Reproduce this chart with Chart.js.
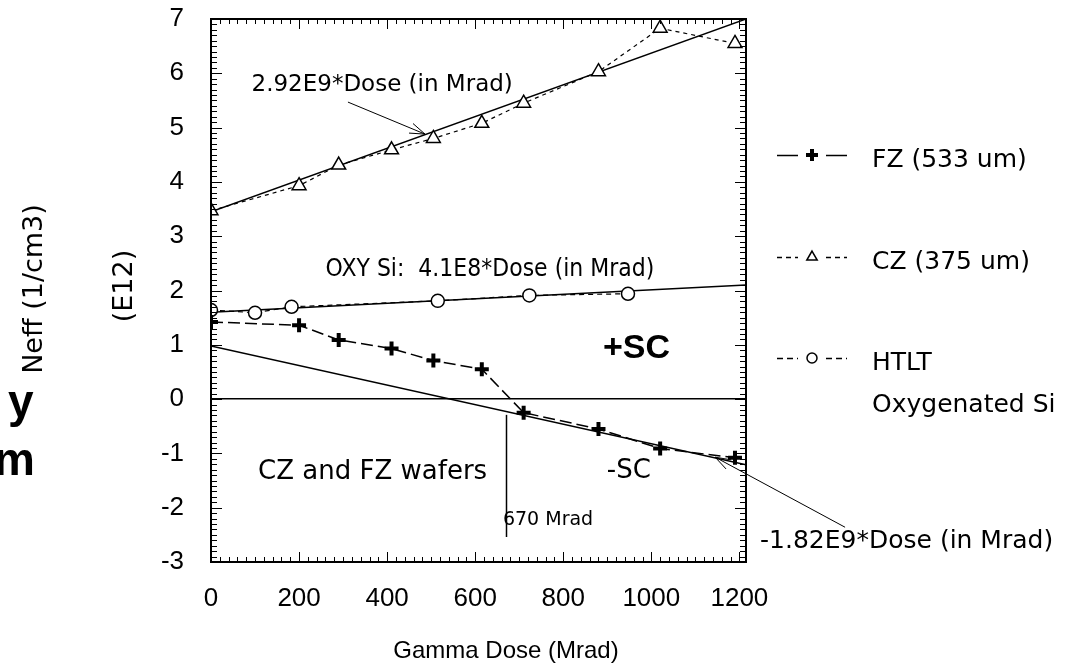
<!DOCTYPE html>
<html>
<head>
<meta charset="utf-8">
<title>Neff vs gamma dose</title>
<script src="https://cdn.jsdelivr.net/npm/chart.js@4/dist/chart.umd.min.js"></script>
<style>
  html, body { margin: 0; padding: 0; background: #fff; }
  canvas { display: block; }
</style>
</head>
<body>
<canvas id="chart" width="1076" height="667"></canvas>
<script>
// Gamma doses (Mrad) shared by the FZ and CZ wafer measurements
const doses = [0, 200, 290, 410, 505, 615, 710, 880, 1020, 1190];
// Neff in units of 1E12 /cm3
const fzValues = [1.42, 1.36, 1.09, 0.93, 0.71, 0.55, -0.25, -0.55, -0.91, -1.08];
const czValues = [3.47, 3.93, 4.31, 4.59, 4.80, 5.08, 5.45, 6.03, 6.83, 6.55];
// Oxygenated (HTLT) silicon
const htltDoses = [0, 100, 183, 515, 723, 947];
const htltValues = [1.64, 1.59, 1.70, 1.81, 1.91, 1.94];
// Straight-line fits, end points
const fitDoses = [0, 1215];
const czFit = [3.45, 7.0];
const oxyFit = [1.6, 2.1];
const fzFit = [0.98, -1.21];
// Axis ticks
const xTicks = [0, 200, 400, 600, 800, 1000, 1200];
const yTicks = [-3, -2, -1, 0, 1, 2, 3, 4, 5, 6, 7];
const xRange = [0, 1215];
const yRange = [-3, 7];

const TXT = '"DejaVu Sans", sans-serif';
const NUM = '"Liberation Sans", Arial, sans-serif';

const pts = (xs, ys) => xs.map((x, i) => ({ x, y: ys[i] }));

const datasets = [
  {
    label: 'FZ (533 um)', data: pts(doses, fzValues),
    borderColor: '#000', borderWidth: 1.5, borderDash: [12, 5],
    pointStyle: 'cross', pointRadius: 7, pointBorderWidth: 4,
    pointBorderColor: '#000', pointBackgroundColor: '#000'
  },
  {
    label: 'CZ (375 um)', data: pts(doses, czValues),
    borderColor: '#000', borderWidth: 1.2, borderDash: [4, 4],
    pointStyle: 'triangle', pointRadius: 8, pointBorderWidth: 1.5,
    pointBorderColor: '#000', pointBackgroundColor: '#fff'
  },
  {
    label: 'HTLT', data: pts(htltDoses, htltValues),
    borderColor: '#000', borderWidth: 1.2, borderDash: [5, 4],
    pointStyle: 'circle', pointRadius: 6.5, pointBorderWidth: 1.5,
    pointBorderColor: '#000', pointBackgroundColor: '#fff'
  },
  { label: 'CZ fit', data: pts(fitDoses, czFit), borderColor: '#000', borderWidth: 1.5, pointRadius: 0 },
  { label: 'OXY fit', data: pts(fitDoses, oxyFit), borderColor: '#000', borderWidth: 1.5, pointRadius: 0 },
  { label: 'FZ fit', data: pts(fitDoses, fzFit), borderColor: '#000', borderWidth: 1.5, pointRadius: 0 }
];

// Legend text lines per plotted series
const legendText = [['FZ (533 um)'], ['CZ (375 um)'], ['HTLT', 'Oxygenated Si']];

// Text notes placed in data coordinates (x = dose, y = Neff at text baseline)
const notes = [
  { text: '2.92E9*Dose (in Mrad)', x: 92, y: 5.67, font: '23px ' + TXT, sy: 1 },
  { text: 'OXY Si:  4.1E8*Dose (in Mrad)', x: 260, y: 2.265, font: '22px ' + TXT, sy: 1.15 },
  { text: '+SC', x: 890, y: 0.75, font: 'bold 34px ' + NUM, sy: 1 },
  { text: 'CZ and FZ wafers', x: 107, y: -1.473, font: '26px ' + TXT, sy: 1 },
  { text: '-SC', x: 899, y: -1.455, font: '26px ' + TXT, sy: 1 },
  { text: '670 Mrad', x: 663, y: -2.32, font: '19px ' + TXT, sy: 1 },
  { text: '-1.82E9*Dose (in Mrad)', x: 1247, y: -2.75, font: '25px ' + TXT, sy: 1 }
];
const arrows = [
  { from: [311, 5.47], to: [486, 4.88] },
  { from: [1440, -2.36], to: [1145, -1.07] }
];
const crossover = { dose: 670, top: -0.29, bottom: -2.54 };

function drawArrow(ctx, x0, y0, x1, y1) {
  const ang = Math.atan2(y1 - y0, x1 - x0), L = 16, s = 0.33;
  ctx.beginPath();
  ctx.moveTo(x0, y0); ctx.lineTo(x1, y1);
  ctx.moveTo(x1 - L * Math.cos(ang - s), y1 - L * Math.sin(ang - s));
  ctx.lineTo(x1, y1);
  ctx.lineTo(x1 - L * Math.cos(ang + s), y1 - L * Math.sin(ang + s));
  ctx.stroke();
}

// Text drawn with an optional vertical stretch about its baseline
function stretchedText(ctx, text, x, y, sy) {
  ctx.save();
  ctx.translate(x, y);
  ctx.scale(1, sy);
  ctx.fillText(text, 0, 0);
  ctx.restore();
}

// Box frame with inward major/minor ticks on all four sides
const frameTicks = {
  id: 'frameTicks',
  afterDatasetsDraw(chart) {
    const { ctx, chartArea: a, scales: { x, y } } = chart;
    ctx.save();
    ctx.strokeStyle = '#000';
    ctx.lineWidth = 1;
    ctx.setLineDash([]);
    ctx.beginPath();
    for (let v = 0; v <= x.max; v += 20) {
      const px = Math.round(x.getPixelForValue(v)) + 0.5;
      const len = v % 200 === 0 ? 10 : 5;
      ctx.moveTo(px, a.bottom); ctx.lineTo(px, a.bottom - len);
      ctx.moveTo(px, a.top); ctx.lineTo(px, a.top + len);
    }
    for (let i = Math.round(y.min * 10); i <= Math.round(y.max * 10); i++) {
      const py = Math.round(y.getPixelForValue(i / 10)) + 0.5;
      const len = i % 10 === 0 ? 11 : 6;
      ctx.moveTo(a.left, py); ctx.lineTo(a.left + len, py);
      ctx.moveTo(a.right, py); ctx.lineTo(a.right - len, py);
    }
    ctx.stroke();
    ctx.lineWidth = 2;
    ctx.strokeRect(a.left, a.top, a.right - a.left, a.bottom - a.top);
    ctx.restore();
  }
};

// Notes, arrows and the 670 Mrad crossover marker
const notesPlugin = {
  id: 'notes',
  afterDraw(chart) {
    const { ctx, scales: { x, y } } = chart;
    ctx.save();
    ctx.fillStyle = '#000';
    ctx.strokeStyle = '#000';
    ctx.textAlign = 'left';
    ctx.textBaseline = 'alphabetic';
    notes.forEach(n => {
      ctx.font = n.font;
      stretchedText(ctx, n.text, x.getPixelForValue(n.x), y.getPixelForValue(n.y), n.sy);
    });
    ctx.lineWidth = 1;
    arrows.forEach(ar => drawArrow(ctx,
      x.getPixelForValue(ar.from[0]), y.getPixelForValue(ar.from[1]),
      x.getPixelForValue(ar.to[0]), y.getPixelForValue(ar.to[1])));
    ctx.lineWidth = 1.5;
    const cx = Math.round(x.getPixelForValue(crossover.dose)) + 0.5;
    ctx.beginPath();
    ctx.moveTo(cx, y.getPixelForValue(crossover.top));
    ctx.lineTo(cx, y.getPixelForValue(crossover.bottom));
    ctx.stroke();
    ctx.restore();
  }
};

// Legend to the right of the plot, axis titles
const sidePlugin = {
  id: 'side',
  afterDraw(chart) {
    const { ctx, chartArea: a } = chart;
    ctx.save();
    ctx.fillStyle = '#000';
    ctx.strokeStyle = '#000';
    const rowY = [a.top + 136, a.top + 238, a.top + 339];
    const sx0 = a.right + 31, sxc = a.right + 66, sx1 = a.right + 101, tx = a.right + 126;
    const dashes = [[], [5, 4], [6, 4]];
    const symR = [6, 6, 5];
    datasets.slice(0, 3).forEach((ds, i) => {
      const yy = rowY[i] + 0.5;
      ctx.lineWidth = 1.5;
      ctx.setLineDash(dashes[i]);
      ctx.beginPath();
      ctx.moveTo(sx0, yy); ctx.lineTo(sxc - 14, yy);
      ctx.moveTo(sxc + 14, yy); ctx.lineTo(sx1, yy);
      ctx.stroke();
      ctx.setLineDash([]);
      ctx.lineWidth = ds.pointStyle === 'cross' ? 4 : 1.5;
      ctx.fillStyle = ds.pointBackgroundColor;
      Chart.helpers.drawPoint(ctx, { pointStyle: ds.pointStyle, radius: symR[i], rotation: 0, borderWidth: ctx.lineWidth }, sxc, rowY[i]);
      ctx.fillStyle = '#000';
      ctx.font = '25px ' + TXT;
      ctx.textAlign = 'left';
      ctx.textBaseline = 'alphabetic';
      legendText[i].forEach((t, k) => ctx.fillText(t, tx, rowY[i] + 12 + k * 42));
    });

    // axis titles
    ctx.textAlign = 'center';
    ctx.textBaseline = 'alphabetic';
    ctx.font = '24px ' + NUM;
    ctx.fillText('Gamma Dose (Mrad)', a.left + 295, a.bottom + 96);
    ctx.textBaseline = 'middle';
    ctx.font = '27px ' + TXT;
    ctx.save();
    ctx.translate(a.left - 86, 286);
    ctx.rotate(-Math.PI / 2);
    ctx.fillText('(E12)', 0, 0);
    ctx.restore();
    ctx.save();
    ctx.translate(a.left - 176, 289);
    ctx.rotate(-Math.PI / 2);
    ctx.fillText('Neff (1/cm3)', 0, 0);
    ctx.restore();

    // bold caption fragments at the left margin
    ctx.textAlign = 'left';
    ctx.textBaseline = 'alphabetic';
    ctx.font = 'bold 46px ' + NUM;
    ctx.fillText('y', 8, 417);
    ctx.fillText('m', -6, 475);
    ctx.restore();
  }
};

new Chart(document.getElementById('chart'), {
  type: 'line',
  data: { datasets },
  options: {
    responsive: false,
    devicePixelRatio: 1,
    animation: false,
    layout: { padding: { left: 0, top: 19, right: 330, bottom: 0 } },
    plugins: { legend: { display: false }, tooltip: { enabled: false } },
    elements: { line: { tension: 0, fill: false } },
    scales: {
      x: {
        type: 'linear',
        min: xRange[0], max: xRange[1],
        afterBuildTicks: s => { s.ticks = xTicks.map(v => ({ value: v })); },
        afterFit: s => { s.height = 105; s.paddingLeft = 0; s.paddingRight = 0; },
        grid: { display: false, drawTicks: false },
        border: { display: false },
        ticks: { color: '#000', padding: 21, maxRotation: 0, font: { family: NUM, size: 26 },
                 callback: v => String(v) }
      },
      y: {
        type: 'linear',
        min: yRange[0], max: yRange[1],
        afterBuildTicks: s => { s.ticks = yTicks.map(v => ({ value: v })); },
        afterFit: s => { s.width = 211; s.paddingTop = 0; s.paddingBottom = 0; },
        grid: {
          drawTicks: false,
          lineWidth: 1.5,
          color: c => (c.tick && c.tick.value === 0) ? '#000' : 'rgba(0,0,0,0)'
        },
        border: { display: false },
        ticks: { color: '#000', padding: 27, font: { family: NUM, size: 26 },
                 callback: v => String(v) }
      }
    }
  },
  plugins: [frameTicks, notesPlugin, sidePlugin]
});
</script>
</body>
</html>
